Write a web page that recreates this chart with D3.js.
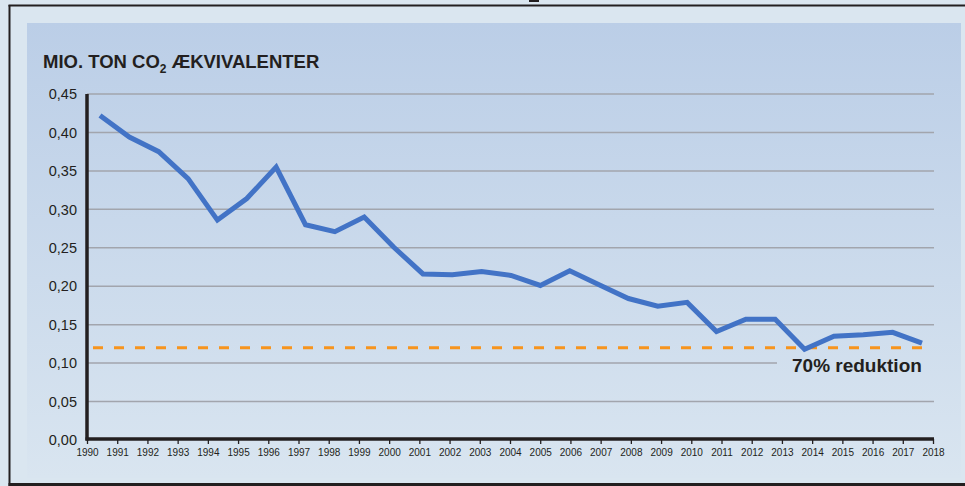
<!DOCTYPE html>
<html>
<head>
<meta charset="utf-8">
<script src="https://cdn.jsdelivr.net/npm/d3@7"></script>
<style>
html,body{margin:0;padding:0;background:#dae6f0;}
svg{display:block;}
</style>
</head>
<body>
<svg id="chart" width="965" height="486"></svg>
<script>
// ---- data ----
const years = [1990,1991,1992,1993,1994,1995,1996,1997,1998,1999,2000,2001,2002,2003,2004,2005,2006,2007,2008,2009,2010,2011,2012,2013,2014,2015,2016,2017,2018];
const emissions = [0.422,0.394,0.375,0.340,0.286,0.314,0.355,0.280,0.271,0.290,0.251,0.216,0.215,0.219,0.214,0.201,0.220,0.202,0.184,0.174,0.179,0.141,0.157,0.157,0.118,0.135,0.137,0.140,0.126];
const yTicks = [0,0.05,0.10,0.15,0.20,0.25,0.30,0.35,0.40,0.45];
const target = 0.12;
const targetLabel = "70% reduktion";
const titleMain = "MIO. TON CO";
const titleSub = "2";
const titleRest = " ÆKVIVALENTER";

const svg = d3.select("#chart");
const W = 965, H = 486;

// defs: panel gradient
const defs = svg.append("defs");
const grad = defs.append("linearGradient").attr("id","panelGrad")
  .attr("gradientUnits","userSpaceOnUse").attr("x1",0).attr("y1",23).attr("x2",0).attr("y2",478);
grad.append("stop").attr("offset","0%").attr("stop-color","#bbcee7");
grad.append("stop").attr("offset","100%").attr("stop-color","#d9e5f0");

// outer background
svg.append("rect").attr("x",0).attr("y",0).attr("width",W).attr("height",H).attr("fill","#dae6f0");
// panel
svg.append("rect").attr("x",27).attr("y",23).attr("width",934).attr("height",455).attr("fill","url(#panelGrad)");

// frame lines
svg.append("line").attr("x1",8.5).attr("x2",W).attr("y1",5.5).attr("y2",5.5).attr("stroke","#231f20").attr("stroke-width",2);
svg.append("line").attr("x1",9.5).attr("x2",9.5).attr("y1",5).attr("y2",H).attr("stroke","#231f20").attr("stroke-width",2);
svg.append("line").attr("x1",8.5).attr("x2",W).attr("y1",484.5).attr("y2",484.5).attr("stroke","#231f20").attr("stroke-width",3);
svg.append("rect").attr("x",529).attr("y",0).attr("width",10).attr("height",2).attr("fill","#231f20");

// scales
const y = d3.scaleLinear().domain([0,0.45]).range([440,94]);
const xAxisScale = d3.scaleLinear().domain([1990,2018]).range([87,933]);
const xData = d3.scaleLinear().domain([1990,2018]).range([100,922]);

// gridlines
svg.append("g").selectAll("line").data(yTicks.filter(d=>d>0)).join("line")
  .attr("x1",87).attr("x2",934)
  .attr("y1",d=>y(d)).attr("y2",d=>y(d))
  .attr("stroke","#a2a5ad").attr("stroke-width",1.5);

// label background occluding gridline
svg.append("rect").attr("x",777).attr("y",352).attr("width",158).attr("height",24).attr("fill","url(#panelGrad)");

// y tick labels
svg.append("g").selectAll("text").data(yTicks).join("text")
  .attr("x",77).attr("y",d=>y(d)).attr("dy","0.36em")
  .attr("text-anchor","end")
  .attr("font-family","Liberation Sans, Arial, sans-serif")
  .attr("font-size",14.5).attr("fill","#231f20")
  .text(d=>d3.format(".2f")(d).replace(".",","));

// x axis
const xAxis = d3.axisBottom(xAxisScale).tickValues(years).tickFormat(d3.format("d")).tickSize(5).tickPadding(5);
const gx = svg.append("g").attr("transform","translate(0,439)").call(xAxis);
gx.select(".domain").remove();
gx.selectAll(".tick line").attr("stroke","#231f20").attr("stroke-width",1.3);
gx.selectAll(".tick text").attr("font-family","Liberation Sans, Arial, sans-serif").attr("font-size",10).attr("fill","#231f20");
svg.append("line").attr("x1",85.5).attr("x2",934).attr("y1",439).attr("y2",439).attr("stroke","#231f20").attr("stroke-width",3.5);

// y axis line
svg.append("line").attr("x1",87).attr("x2",87).attr("y1",94).attr("y2",440.5).attr("stroke","#231f20").attr("stroke-width",3.5);

// target dashed line
svg.append("line").attr("x1",93).attr("x2",932).attr("y1",y(target)).attr("y2",y(target))
  .attr("stroke","#f7941d").attr("stroke-width",3).attr("stroke-dasharray","10,11");

// data line
const line = d3.line().x((d,i)=>xData(years[i])).y(d=>y(d));
svg.append("path").datum(emissions).attr("d",line)
  .attr("fill","none").attr("stroke","#4273c6").attr("stroke-width",5)
  .attr("stroke-linejoin","miter").attr("stroke-miterlimit",3);

// target label
svg.append("text").attr("x",792).attr("y",372)
  .attr("font-family","Liberation Sans, Arial, sans-serif").attr("font-weight","bold")
  .attr("font-size",19).attr("fill","#231f20").text(targetLabel);

// title
const t = svg.append("text").attr("x",43).attr("y",68)
  .attr("font-family","Liberation Sans, Arial, sans-serif").attr("font-weight","bold")
  .attr("font-size",18.5).attr("fill","#231f20");
t.append("tspan").text(titleMain);
t.append("tspan").attr("font-size",12).attr("dy",5).text(titleSub);
t.append("tspan").attr("dy",-5).text(titleRest);
</script>
</body>
</html>
